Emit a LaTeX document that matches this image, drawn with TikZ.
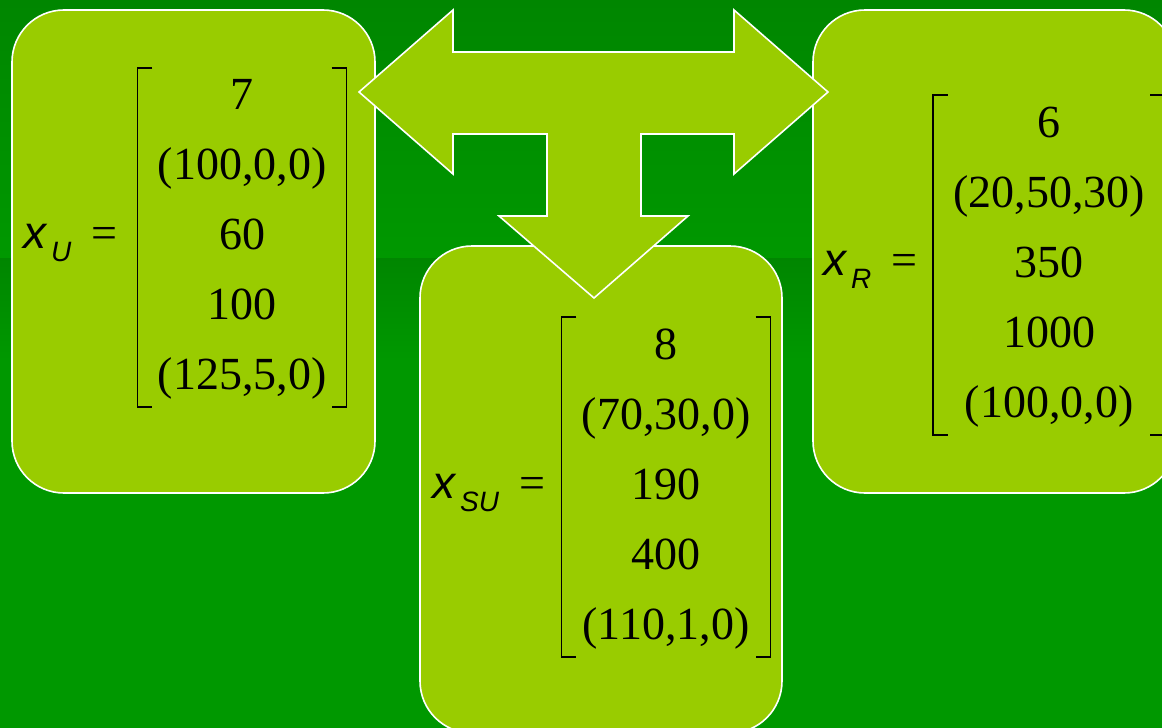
\documentclass[tikz,border=0pt]{standalone}
\usepackage{fontspec}
\setmainfont{Liberation Serif}
\setsansfont{Liberation Sans}
\usetikzlibrary{positioning}
\definecolor{boxgreen}{RGB}{153,204,0}
\definecolor{bgdark}{RGB}{0,134,0}
\definecolor{bglight}{RGB}{0,152,0}
\newcommand{\vecbrackets}[1]{%
  \draw[brk] ([xshift=15pt,yshift=-7.5pt]#1.north west) -- ([yshift=-7.5pt]#1.north west)
    -- ([yshift=3.5pt]#1.south west) -- ([xshift=15pt,yshift=3.5pt]#1.south west);
  \draw[brk] ([xshift=-15pt,yshift=-7.5pt]#1.north east) -- ([yshift=-7.5pt]#1.north east)
    -- ([yshift=3.5pt]#1.south east) -- ([xshift=-15pt,yshift=3.5pt]#1.south east);}
\newcommand{\xlbl}[1]{{\sffamily\itshape x\kern5pt\raisebox{-13pt}{\fontsize{28}{28}\selectfont #1}}\kern20pt=}

\begin{document}
\begin{tikzpicture}[x=1pt,y=-1pt,
    card/.style={draw=white,line width=1.6pt,fill=boxgreen,rounded corners=52pt,
                 minimum width=363pt,minimum height=483pt,inner sep=0pt},
    vec/.style={inner xsep=20pt,inner ysep=0pt,font=\fontsize{46}{70}\selectfont},
    lbl/.style={anchor=base west,inner sep=0pt,font=\fontsize{46}{50}\selectfont},
    brk/.style={line width=1.8pt,black}]
        \useasboundingbox (0,0) rectangle (1162,728);
        \clip (0,0) rectangle (1162,728);
        \shade[top color=bgdark,bottom color=bglight] (0,0) rectangle (1162,258);
        \shade[top color=bgdark,bottom color=bglight] (0,258) rectangle (1162,360);
        \fill[bglight] (0,360) rectangle (1162,728);

        \node[card] (bU) at (193.5,251.5) {};
        \node[card] (bR) at (994.5,251.5) {};
        \node[card,minimum width=362pt,minimum height=487pt] (bSU) at (601,489.5) {};

        \draw[white,line width=1.6pt,fill=boxgreen,line join=miter]
          (359,92) -- (453,10) -- (453,52) -- (734,52) -- (734,10) -- (828,92)
          -- (734,174) -- (734,134) -- (641,134) -- (641,216) -- (688,216)
          -- (594,298) -- (499,216) -- (547,216) -- (547,134) -- (453,134)
          -- (453,174) -- cycle;

        \node[vec] (vU) at (242,235.5)
          {\begin{tabular}{@{}c@{}}7\\(100,0,0)\\60\\100\\(125,5,0)\end{tabular}};
        \vecbrackets{vU}
        \node[lbl] (lU) at (23,248) {\xlbl{U}};

        \node[vec] (vR) at (1049,263)
          {\begin{tabular}{@{}c@{}}6\\(20,50,30)\\350\\1000\\(100,0,0)\end{tabular}};
        \vecbrackets{vR}
        \node[lbl] (lR) at (823,275) {\xlbl{R}};

        \node[vec] (vSU) at (666,485)
          {\begin{tabular}{@{}c@{}}8\\(70,30,0)\\190\\400\\(110,1,0)\end{tabular}};
        \vecbrackets{vSU}
        \node[lbl] (lSU) at (432,498) {\xlbl{SU}};
      \end{tikzpicture}
\end{document}
